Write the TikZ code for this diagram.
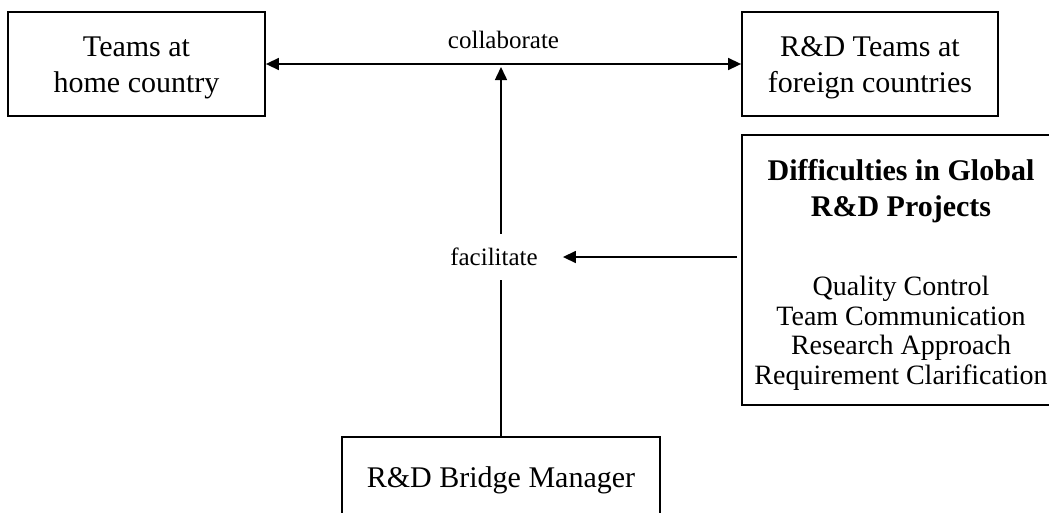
\documentclass[tikz,border=0pt]{standalone}
\usepackage{fontspec}
\setmainfont[Ligatures={NoCommon}]{Liberation Serif}
\usetikzlibrary{arrows.meta}
\begin{document}
\begin{tikzpicture}[x=1pt,y=-1pt,
  box/.style={draw, line width=1.8pt, align=center, inner sep=0pt},
  boxfont/.style={font=\fontsize{30}{36}\selectfont},
  lblfont/.style={font=\fontsize{25}{30}\selectfont},
  conn/.style={line width=1.5pt},
  arr/.style={conn,-{Triangle[length=13pt,width=12pt]}},
  biarr/.style={conn,{Triangle[length=13pt,width=12pt]}-{Triangle[length=13pt,width=12pt]}}]
\useasboundingbox (0,0) rectangle (1049,512);
\clip (0,0) rectangle (1049,512);

\node[box, boxfont, minimum width=257pt, minimum height=104pt] (home) at (136.5,64) {\rule{0pt}{27pt}Teams at\\home country};
\node[box, boxfont, minimum width=256pt, minimum height=104pt] (foreign) at (870,64) {\rule{0pt}{27pt}R\&D Teams at\\foreign countries};
\node[box, font=\fontsize{28}{29.5}\selectfont, minimum width=318pt, minimum height=270pt] (diff) at (901,270)
  {\rule{0pt}{31pt}{\bfseries\fontsize{30}{36}\selectfont Difficulties in Global}\\[6pt]
   {\bfseries\fontsize{30}{36}\selectfont R\&D Projects}\\[50pt]
   Quality Control\\Team Communication\\Research Approach\\Requirement Clarification};
\node[box, boxfont, minimum width=318pt, minimum height=86pt] (mgr) at (501,480) {R\&D Bridge Manager};
\node[lblfont, inner xsep=25pt, inner ysep=0pt, minimum height=46pt] (fac) at (494,257) {facilitate};
\coordinate (meet) at (501,67);

\draw[biarr] (home) -- node[lblfont, yshift=24pt] (collab) {collaborate} (foreign);
\draw[conn] (mgr.north) -- (mgr.north |- fac.south);
\draw[arr] (mgr.north |- fac.north) -- (meet);
\draw[arr, shorten <=4pt] (diff.west |- fac) -- (fac);
\end{tikzpicture}
\end{document}
